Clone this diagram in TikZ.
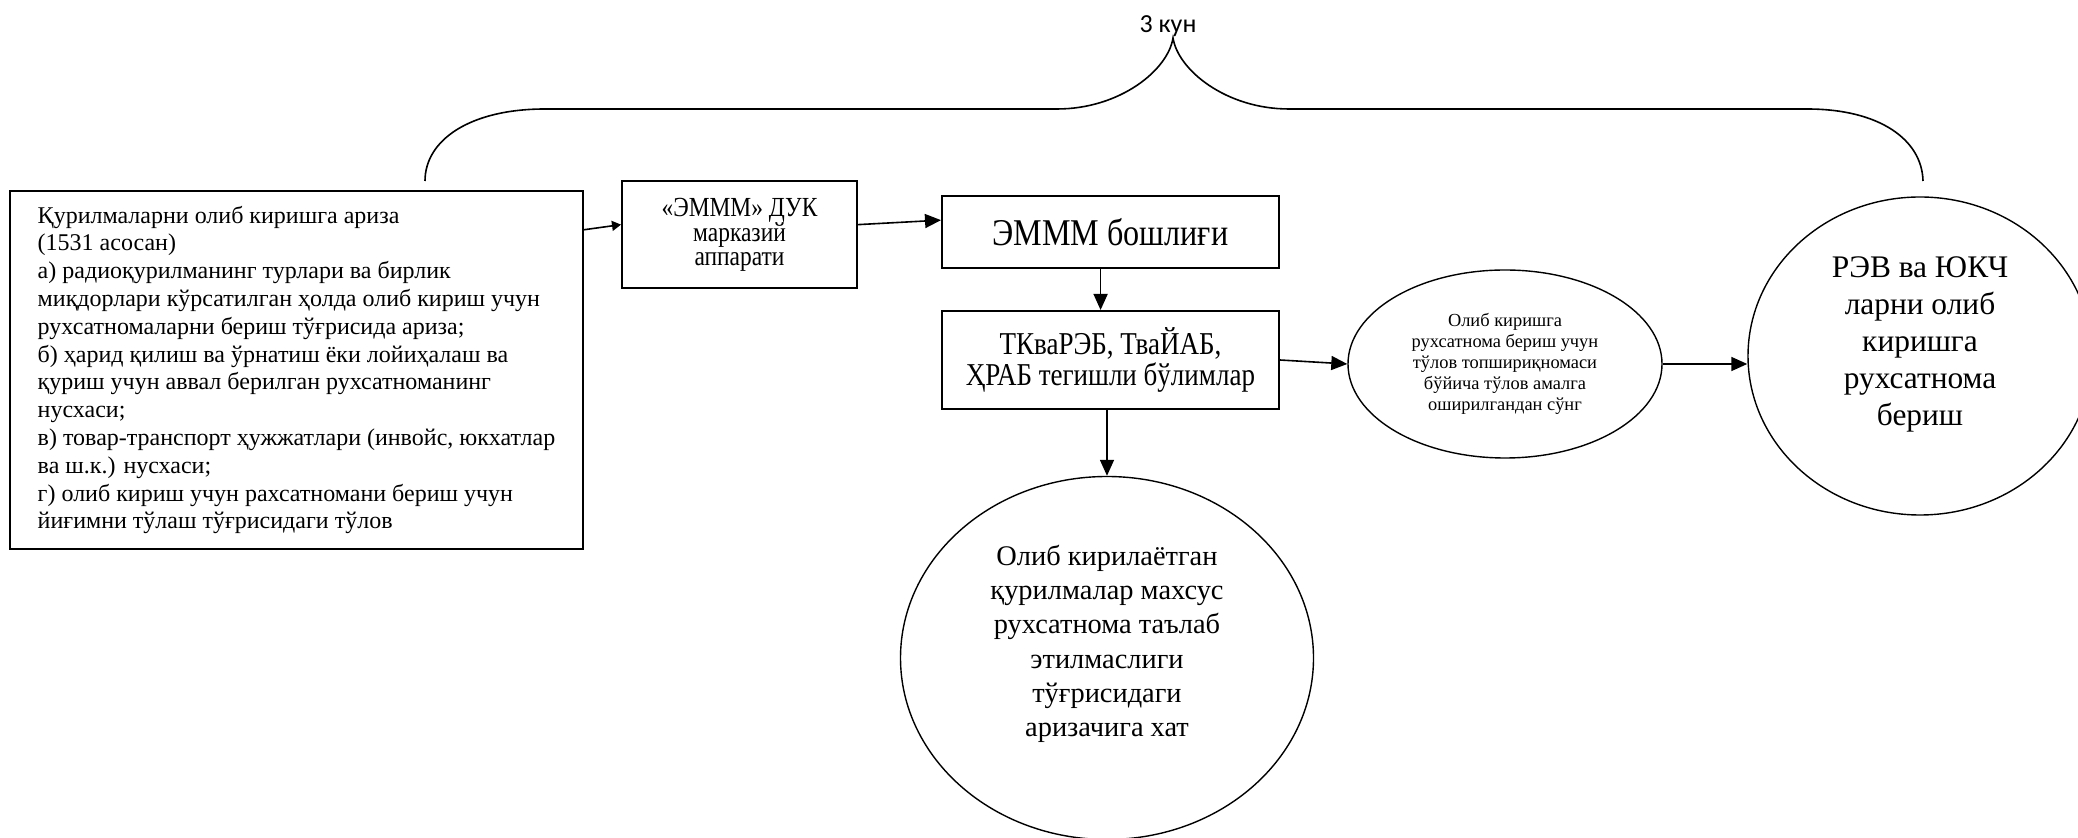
\documentclass[tikz,border=0pt]{standalone}
\usepackage{fontspec}
\setmainfont{Liberation Serif}
\newfontfamily\boxfont{Liberation Serif}[FakeStretch=0.85]
\newfontfamily\kunfont{Carlito}
\usetikzlibrary{shapes.geometric,arrows.meta}

\tikzstyle{box}=[rectangle,draw=black,line width=1pt,inner sep=0pt,align=center]
\tikzstyle{oval}=[ellipse,draw=black,line width=0.7pt,inner sep=0pt,align=center]
\tikzstyle{arr}=[line width=0.8pt,-{Triangle[length=8pt,width=7pt]}]
\tikzstyle{thinarr}=[line width=0.8pt,-{Triangle[length=4.5pt,width=5pt]}]

\begin{document}
\begin{tikzpicture}[x=0.5pt,y=-0.5pt]
\useasboundingbox (0,0) rectangle (2078,838);
\node (zayavka) at (296.5,370) [box,align=left,minimum width=286.5pt,minimum height=179pt,font=\fontsize{12}{13.9}\selectfont] {Қурилмаларни олиб киришга ариза\\(1531 асосан)\\а) радиоқурилманинг турлари ва бирлик\\миқдорлари кўрсатилган ҳолда олиб кириш учун\\рухсатномаларни бериш тўғрисида ариза;\\б) ҳарид қилиш ва ўрнатиш ёки лойиҳалаш ва\\қуриш учун аввал берилган рухсатноманинг\\нусхаси;\\в) товар-транспорт ҳужжатлари (инвойс, юкхатлар\\ва ш.к.) нусхаси;\\г) олиб кириш учун рахсатномани бериш учун\\йиғимни тўлаш тўғрисидаги тўлов};
\node (duk) at (739.5,235) [box,minimum width=117.5pt,minimum height=53.5pt,font=\boxfont\fontsize{13.8}{12.4}\selectfont] {«ЭМММ» ДУК\\марказий\\аппарати};
\node (boshliq) at (1110.5,232) [box,minimum width=168.5pt,minimum height=36pt,font=\boxfont\fontsize{18.9}{20}\selectfont] {ЭМММ бошлиғи};
\node (bulim) at (1110.5,360) [box,minimum width=168.5pt,minimum height=49pt,font=\boxfont\fontsize{15.9}{15.8}\selectfont] {ТКваРЭБ, ТваЙАБ,\\ҲРАБ тегишли бўлимлар};
\node (tolov) at (1505,364) [oval,minimum width=157pt,minimum height=94pt,font=\fontsize{9.2}{10.6}\selectfont] {Олиб киришга\\рухсатнома бериш учун\\тўлов топшириқномаси\\бўйича тўлов амалга\\оширилгандан сўнг};
\node (reshenie) at (1920,356) [oval,minimum width=172pt,minimum height=159pt,font=\fontsize{15.7}{18.5}\selectfont] {РЭВ ва ЮКЧ\\ларни олиб\\киришга\\рухсатнома\\бериш\\[-4pt]};
\node (hat) at (1107,658) [oval,minimum width=206.5pt,minimum height=181.5pt,font=\fontsize{14.2}{17.1}\selectfont] {Олиб кирилаётган\\қурилмалар махсус\\рухсатнома таълаб\\этилмаслиги\\тўғрисидаги\\аризачига хат\\};
\node (kun) at (1168,26) [inner sep=0pt,font=\kunfont\fontsize{13}{15}\selectfont] {3 кун};
\coordinate (peak) at (1173,38);
\draw [thinarr] (zayavka.26.5) -- (duk.175);
\draw [arr] (duk.5) -- (boshliq.176.6);
\draw [arr] (boshliq.255) -- (boshliq.255 |- bulim.north);
\draw [arr] (bulim.south -| hat.north) -- (hat.north);
\draw [arr] (bulim.east) -- (tolov.west);
\draw [arr] (tolov.east) -- (tolov.east -| reshenie.west);
\draw [line width=0.8pt] (425,181) .. controls (425,140) and (470,109) .. (545,109) -- (1057,109)
  .. controls (1120,109) and (1168,70) .. (peak)
  .. controls (1178,70) and (1226,109) .. (1289,109) -- (1807,109)
  .. controls (1880,109) and (1922,140) .. (1923,181);
\end{tikzpicture}
\end{document}
